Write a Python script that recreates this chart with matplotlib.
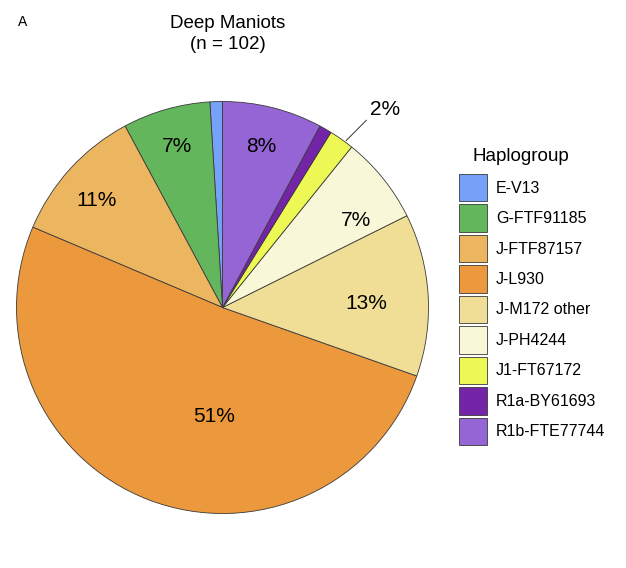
import matplotlib.pyplot as plt

plt.rcParams['font.family'] = ['Liberation Sans', 'DejaVu Sans']

# haplogroup counts, Deep Maniots (n = 102)
haplogroups = ["E-V13", "G-FTF91185", "J-FTF87157", "J-L930", "J-M172 other",
               "J-PH4244", "J1-FT67172", "R1a-BY61693", "R1b-FTE77744"]
counts = [1, 7, 11, 52, 13, 7, 2, 1, 8]
colors = ["#75A2F8", "#63B65B", "#ECB55F", "#EC983D", "#F0DE96",
          "#F8F7D8", "#EEF855", "#7424A6", "#9565D6"]

# where the percent labels sit (axes units, pie radius = 1), None = no label
label_xy = [None, (-0.22, 0.78), (-0.61, 0.52), (-0.04, -0.53), (0.70, 0.02),
            (0.65, 0.42), (0.79, 0.96), None, (0.19, 0.78)]

W, H = 626, 568
fig = plt.figure(figsize=(W / 100, H / 100), dpi=100)

# pie centre (222.5, 307.5) px from top-left, radius 206 px
cx, cy, r = 222.5, 307.5, 206
ax = fig.add_axes([(cx - r) / W, (H - cy - r) / H, 2 * r / W, 2 * r / H])

wedges, _ = ax.pie(counts, colors=colors, startangle=90, counterclock=True,
                   radius=1, wedgeprops=dict(edgecolor="#3a3a3a", linewidth=0.6))
ax.set_xlim(-1, 1)
ax.set_ylim(-1, 1)
ax.set_aspect("equal")
ax.axis("off")

total = sum(counts)
for i, xy in enumerate(label_xy):
    if xy is None:
        continue
    pct = "%d%%" % round(100.0 * counts[i] / total)
    if i == 6:
        # small slice: label outside with a leader line
        ax.annotate(pct, xy=(0.60, 0.81), xytext=xy, fontsize=15,
                    ha="center", va="center", annotation_clip=False,
                    arrowprops=dict(arrowstyle="-", color="#333333", lw=0.7,
                                    shrinkA=1, shrinkB=0,
                                    relpos=(0.0, 0.15)))
    else:
        ax.text(xy[0], xy[1], pct, fontsize=15, ha="center", va="center")

fig.text(18 / W, 1 - 22 / H, "A", fontsize=10, ha="left", va="center")
fig.text(228 / W, 1 - 34 / H, "Deep Maniots\n(n = 102)", fontsize=13.5,
         ha="center", va="center", linespacing=1.3)

leg = fig.legend(wedges, haplogroups, loc="upper left",
                 bbox_to_anchor=(459 / W, 1 - 174 / H), frameon=False,
                 fontsize=11.5, handlelength=1.75, handleheight=2.25,
                 labelspacing=0.2, handletextpad=0.56, borderpad=0,
                 borderaxespad=0)
fig.text(472 / W, 1 - 156 / H, "Haplogroup", fontsize=13.6,
         ha="left", va="center")

fig.savefig("out.png", dpi=100)
